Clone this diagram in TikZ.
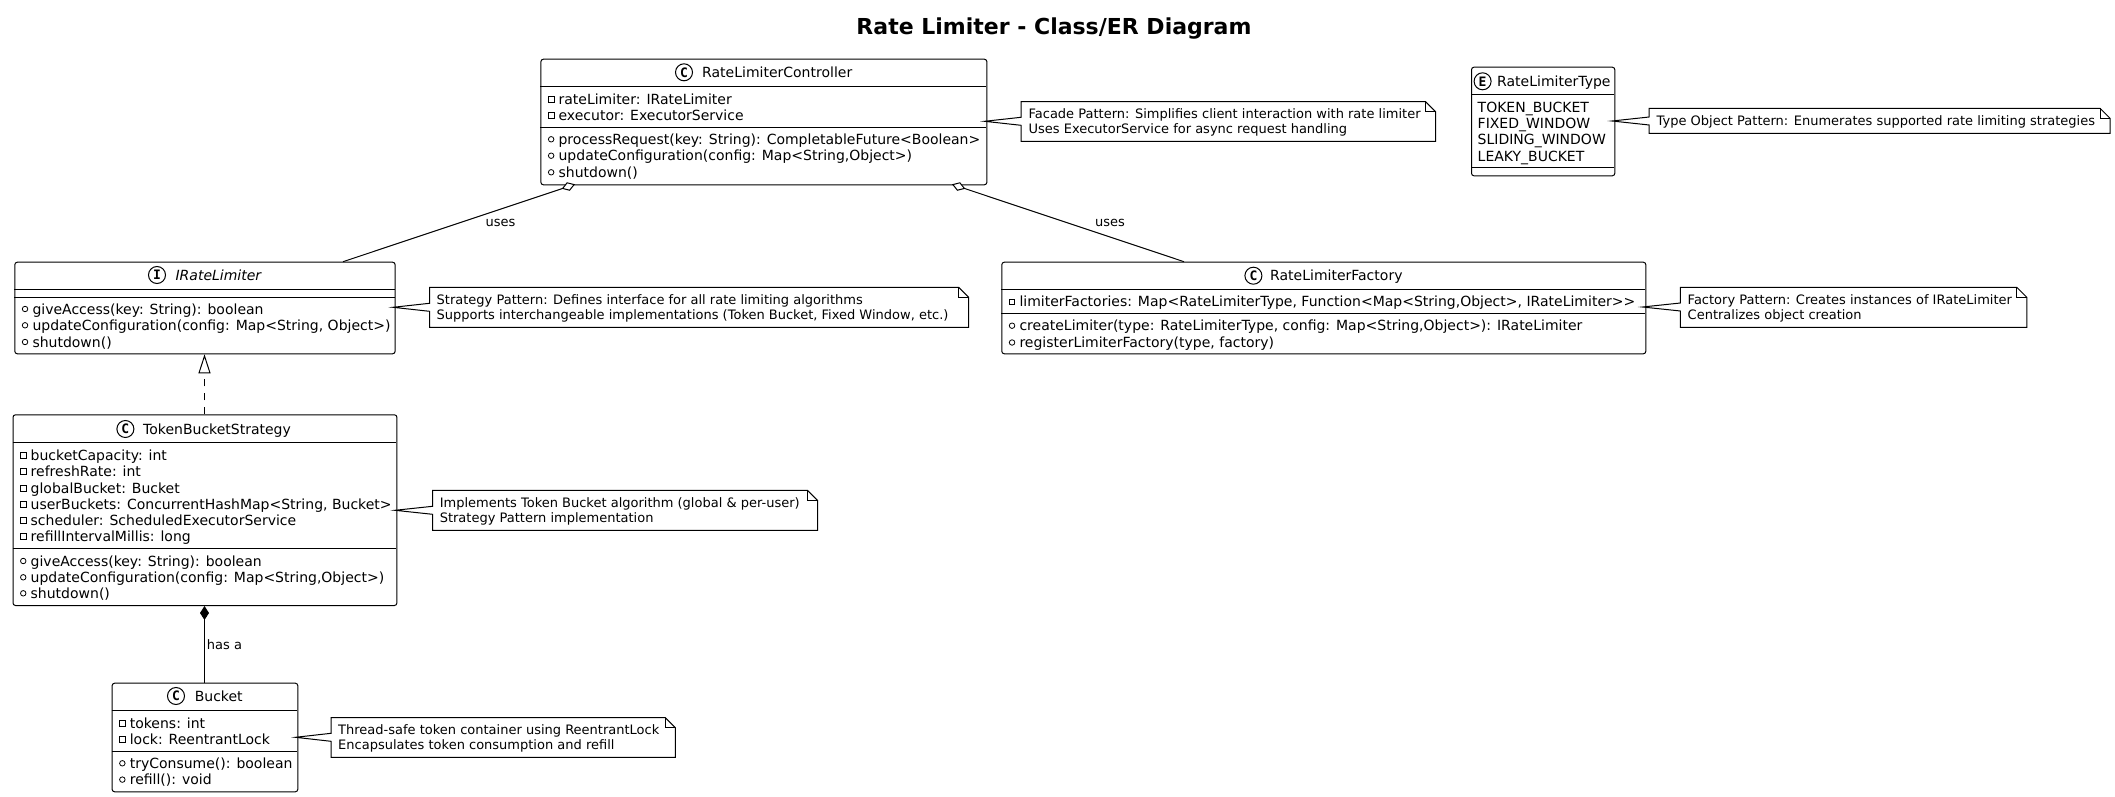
\documentclass[tikz,border=0pt]{standalone}
\usepackage{fontspec}
\setmainfont{DejaVu Sans}
\newfontfamily\monofnt{DejaVu Sans Mono}
\usetikzlibrary{arrows.meta}
\newcommand{\fmember}{\fontsize{14}{16}\selectfont}
\newcommand{\fnote}{\fontsize{13}{15}\selectfont}
\tikzset{
  x=1pt,y=-1pt,
  umlbox/.style={draw=black,fill=white,line width=1pt,rounded corners=2.5pt,rectangle,inner sep=0pt,anchor=north west},
  sepline/.style={line width=1pt},
  rowtext/.style={inner sep=0pt,anchor=base west,font=\fmember},
  notetext/.style={inner sep=0pt,anchor=base west,font=\fnote},
  linklabel/.style={inner sep=0pt,font=\fnote},
  vis/.style={line width=0.8pt},
  badge/.style={circle,draw=black,fill=white,line width=1pt,inner sep=0pt,minimum size=17pt,font=\monofnt\bfseries\fontsize{13}{13}\selectfont},
  notepath/.style={draw=black,fill=white,line width=1pt,line join=miter},
  aggr/.style={line width=1pt,{Diamond[fill=white,length=14pt,width=9pt,line width=1pt]}-},
  compo/.style={line width=1pt,{Diamond[fill=black,length=14pt,width=9pt]}-},
  realize/.style={line width=1pt,dash pattern=on 7pt off 7pt,-{Triangle[fill=white,length=19pt,width=12pt,line width=1pt]}},
}
% \umlclass{name}{x1}{y1}{x2}{y2}
\newcommand{\umlclass}[5]{%
  \pgfmathsetmacro{\bw}{#4-#2}\pgfmathsetmacro{\bh}{#5-#3}%
  \node[umlbox,minimum width=\bw pt,minimum height=\bh pt] (#1) at (#2,#3) {};%
  \xdef\bx{#2}%
}
\newcommand{\sep}[1]{\draw[sepline] (\bx,#1) -- (\curright,#1);}
% head: name, badge x, letter, text x, y centre, text
\newcommand{\head}[6]{%
  \node[badge] (#1b) at (#2,#5) {#3};
  \node[rowtext] (#1t) at (#4,#5+5) {#6};
}
\newcommand{\priv}[3]{%
  \draw[vis] ({\bx+8},{#2-2.75}) rectangle ({\bx+13.5},{#2+2.75});
  \node[rowtext] (#1) at ({\bx+18},{#2+5}) {#3};
}
\newcommand{\publ}[3]{%
  \draw[vis] ({\bx+10.75},#2) circle[radius=2.75pt];
  \node[rowtext] (#1) at ({\bx+18},{#2+5}) {#3};
}
% note: name,x1,y1,x2,y2,tipx,tipy
\newcommand{\umlnote}[7]{%
  \draw[notepath] (#2,#3) -- ({#4-10},#3) -- (#4,{#3+10}) -- (#4,#5) -- (#2,#5) -- (#2,{#7+4}) -- (#6,#7) -- (#2,{#7-4}) -- cycle;
  \draw[line width=1pt] ({#4-10},#3) -- ({#4-10},{#3+10}) -- (#4,{#3+10});
  \coordinate (#1) at (#2,#3);
}
\newcommand{\noterow}[3]{\node[notetext] (#1) at #2 {#3};}
\begin{document}
\begin{tikzpicture}
\useasboundingbox (0,0) rectangle (2115,797);
\fill[white] (0,0) rectangle (2115,797);

\node[inner sep=0pt,font=\bfseries\fontsize{22}{25}\selectfont] (title) at (1054,28.5) {Rate Limiter - Class/ER Diagram};

% connectors
\coordinate (ctrlL) at (575,184.3);
\coordinate (ctrlR) at (952,184.3);
\coordinate (ifTop) at (343,261.7);
\coordinate (facTop) at (1184,261.7);
\coordinate (vertA) at (204.5,300);

% RateLimiterController
\umlclass{ctrl}{540.4}{58.7}{986.4}{184.3}
\def\curright{986.4}
\sep{86.3}\sep{127.3}
\head{ctrl}{684}{C}{702}{72.3}{RateLimiterController}
\priv{ctrlA}{99.3}{rateLimiter: IRateLimiter}
\priv{ctrlB}{115.5}{executor: ExecutorService}
\publ{ctrlC}{139.3}{processRequest(key: String): CompletableFuture<Boolean>}
\publ{ctrlD}{155.7}{updateConfiguration(config: Map<String,Object>)}
\publ{ctrlE}{172.3}{shutdown()}
\umlnote{nf}{1021}{101.7}{1435.5}{141.3}{984.6}{121.3}
\noterow{nfA}{(1028.4,118.3)}{Facade Pattern: Simplifies client interaction with rate limiter}
\noterow{nfB}{(1028.4,133.3)}{Uses ExecutorService for async request handling}

% RateLimiterType
\umlclass{enum}{1471}{66.7}{1614.3}{175.3}
\def\curright{1614.3}
\sep{94.3}\sep{167.3}
\head{enum}{1482.6}{E}{1497}{81.3}{RateLimiterType}
\node[rowtext] (enA) at (1477.5,112.3) {TOKEN\_BUCKET};
\node[rowtext] (enB) at (1477.5,128.6) {FIXED\_WINDOW};
\node[rowtext] (enC) at (1477.5,145) {SLIDING\_WINDOW};
\node[rowtext] (enD) at (1477.5,161.3) {LEAKY\_BUCKET};
\umlnote{nt}{1649.2}{108.3}{2110}{133.3}{1612}{121}
\noterow{ntA}{(1656.5,125.5)}{Type Object Pattern: Enumerates supported rate limiting strategies}

% IRateLimiter
\umlclass{iface}{14.3}{261.7}{394.6}{353.3}
\def\curright{394.6}
\sep{289.3}\sep{297.3}
\node[badge] (ifaceb) at (157,275) {I};
\node[rowtext,font=\fmember\itshape] (ifacet) at (175.4,280) {IRateLimiter};
\publ{ifA}{309}{giveAccess(key: String): boolean}
\publ{ifB}{325.3}{updateConfiguration(config: Map<String, Object>)}
\publ{ifC}{342}{shutdown()}
\umlnote{ni}{429.5}{287.3}{968.6}{327.3}{393}{307.3}
\noterow{niA}{(436.5,304)}{Strategy Pattern: Defines interface for all rate limiting algorithms}
\noterow{niB}{(436.5,319)}{Supports interchangeable implementations (Token Bucket, Fixed Window, etc.)}

% RateLimiterFactory
\umlclass{fac}{1001.3}{261.7}{1645.3}{353.3}
\def\curright{1645.3}
\sep{289.3}\sep{313.7}
\head{fac}{1253.4}{C}{1270}{275.7}{RateLimiterFactory}
\priv{facA}{301.7}{limiterFactories: Map<RateLimiterType, Function<Map<String,Object>, IRateLimiter>{}>}
\publ{facB}{325.7}{createLimiter(type: RateLimiterType, config: Map<String,Object>): IRateLimiter}
\publ{facC}{342.5}{registerLimiterFactory(type, factory)}
\umlnote{nc}{1680.4}{287.3}{2026.8}{327.3}{1642.5}{307}
\noterow{ncA}{(1687.5,304)}{Factory Pattern: Creates instances of IRateLimiter}
\noterow{ncB}{(1687.5,319)}{Centralizes object creation}

% TokenBucketStrategy
\umlclass{tok}{12.5}{414.3}{396.4}{605}
\def\curright{396.4}
\sep{442.3}\sep{548.3}
\head{tok}{125.4}{C}{143}{429}{TokenBucketStrategy}
\priv{tokA}{455.3}{bucketCapacity: int}
\priv{tokB}{471.3}{refreshRate: int}
\priv{tokC}{488.3}{globalBucket: Bucket}
\priv{tokD}{504.3}{userBuckets: ConcurrentHashMap<String, Bucket>}
\priv{tokE}{520.3}{scheduler: ScheduledExecutorService}
\priv{tokF}{536.3}{refillIntervalMillis: long}
\publ{tokG}{561}{giveAccess(key: String): boolean}
\publ{tokH}{577.3}{updateConfiguration(config: Map<String,Object>)}
\publ{tokI}{593.3}{shutdown()}
\umlnote{ns}{432.6}{490.3}{817.5}{530.3}{395}{510.3}
\noterow{nsA}{(439.6,507)}{Implements Token Bucket algorithm (global \& per-user)}
\noterow{nsB}{(439.6,522)}{Strategy Pattern implementation}

% Bucket
\umlclass{buc}{111.6}{682.7}{297.3}{791.3}
\def\curright{297.3}
\sep{710.3}\sep{751.3}
\head{buc}{176}{C}{194.6}{696}{Bucket}
\priv{bucA}{723.3}{tokens: int}
\priv{bucB}{739.3}{lock: ReentrantLock}
\publ{bucC}{763.3}{tryConsume(): boolean}
\publ{bucD}{779.6}{refill(): void}
\umlnote{nb}{331}{717.7}{675.4}{757.3}{295.5}{737.3}
\noterow{nbA}{(338,734)}{Thread-safe token container using ReentrantLock}
\noterow{nbB}{(338,749)}{Encapsulates token consumption and refill}

% relations
\draw[aggr] (ctrlL) -- (ifTop);
\draw[aggr] (ctrlR) -- (facTop);
\draw[realize] (tok.north -| vertA) -- (iface.south -| vertA);
\draw[compo] (tok.south -| vertA) -- (buc.north -| vertA);
\node[linklabel] (lu1) at (500.5,222.7) {uses};
\node[linklabel] (lu2) at (1110,222.7) {uses};
\node[linklabel,anchor=west] (lh) at (206.7,645) {has a};
\end{tikzpicture}
\end{document}
